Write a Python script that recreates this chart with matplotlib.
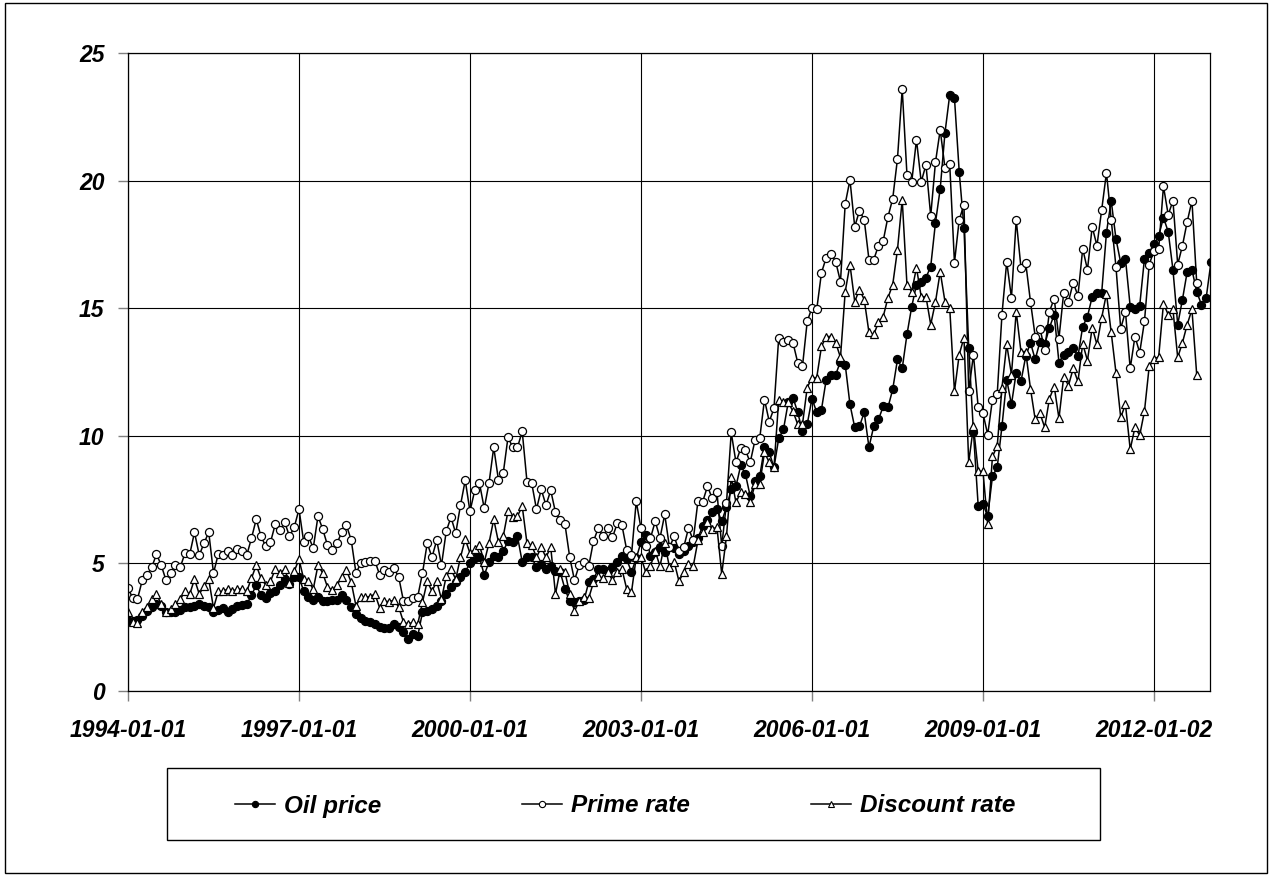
import matplotlib
matplotlib.use("Agg")
import matplotlib.pyplot as plt
from matplotlib.lines import Line2D
from matplotlib.patches import Rectangle
import numpy as np

# ---------------- data (monthly, starting 1994-01) ----------------
tick_labels = ["1994-01-01", "1997-01-01", "2000-01-01", "2003-01-01",
               "2006-01-01", "2009-01-01", "2012-01-02"]
tick_months = [0, 36, 72, 108, 144, 180, 216]
series_names = ["Oil price", "Prime rate", "Discount rate"]

oil_price = [
    2.74, 2.74, 2.78, 2.93, 3.13, 3.29, 3.40, 3.33, 3.09, 3.09, 3.09, 3.17,
    3.29, 3.29, 3.33, 3.40, 3.33, 3.29, 3.09, 3.17, 3.27, 3.09, 3.20, 3.33,
    3.38, 3.40, 3.75, 4.15, 3.75, 3.64, 3.83, 3.91, 4.15, 4.38, 4.19, 4.46,
    4.46, 3.91, 3.68, 3.56, 3.70, 3.52, 3.52, 3.56, 3.56, 3.75, 3.56, 3.31,
    3.00, 2.88, 2.74, 2.70, 2.62, 2.50, 2.46, 2.46, 2.62, 2.50, 2.31, 2.03,
    2.23, 2.15, 3.09, 3.13, 3.20, 3.35, 3.52, 3.80, 4.07, 4.26, 4.46, 4.68,
    5.00, 5.20, 5.24, 4.54, 5.05, 5.28, 5.24, 5.48, 5.87, 5.83, 6.06, 5.05,
    5.24, 5.24, 4.85, 4.97, 4.77, 4.89, 4.70, 4.66, 3.99, 3.52, 3.48, 3.52,
    3.55, 4.26, 4.38, 4.77, 4.77, 4.70, 4.85, 5.05, 5.28, 5.16, 4.66, 5.20,
    5.83, 6.10, 5.28, 5.44, 5.63, 5.44, 5.63, 5.60, 5.36, 5.48, 5.67, 5.83,
    6.00, 6.46, 6.70, 7.00, 7.12, 6.65, 7.20, 7.90, 8.02, 8.84, 8.49, 7.63,
    8.22, 8.41, 9.55, 9.35, 8.76, 9.90, 10.25, 11.31, 11.50, 10.92, 10.17, 10.45,
    11.46, 10.92, 11.03, 12.20, 12.40, 12.40, 12.91, 12.79, 11.23, 10.33, 10.37, 10.92,
    9.55, 10.37, 10.64, 11.15, 11.11, 11.82, 12.99, 12.64, 13.97, 15.06, 15.92, 16.04,
    16.20, 16.63, 18.35, 19.68, 21.87, 23.36, 23.24, 20.35, 18.15, 13.46, 10.13, 7.24,
    7.32, 6.85, 8.41, 8.76, 10.37, 12.20, 11.23, 12.48, 12.13, 13.11, 13.65, 12.99,
    13.69, 13.58, 14.24, 14.75, 12.87, 13.18, 13.30, 13.46, 13.11, 14.28, 14.67, 15.45,
    15.61, 15.61, 17.96, 19.21, 17.72, 16.78, 16.94, 15.06, 14.98, 15.10, 16.94, 17.18,
    17.50, 17.84, 18.55, 18.00, 16.51, 14.36, 15.34, 16.43, 16.51, 15.65, 15.14, 15.41,
    16.80,
]

prime_rate = [
    4.03, 3.64, 3.60, 4.34, 4.54, 4.85, 5.36, 4.93, 4.34, 4.62, 4.93, 4.85,
    5.40, 5.36, 6.22, 5.32, 5.79, 6.22, 4.62, 5.36, 5.32, 5.48, 5.32, 5.56,
    5.48, 5.32, 5.99, 6.73, 6.06, 5.67, 5.83, 6.53, 6.30, 6.61, 6.06, 6.42,
    7.12, 5.83, 6.06, 5.60, 6.85, 6.34, 5.71, 5.52, 5.79, 6.22, 6.49, 5.91,
    4.62, 5.00, 5.05, 5.09, 5.09, 4.54, 4.73, 4.66, 4.81, 4.46, 3.52, 3.52,
    3.64, 3.70, 4.62, 5.79, 5.24, 5.91, 4.93, 6.26, 6.81, 6.18, 7.28, 8.26,
    7.04, 7.86, 8.14, 7.16, 8.14, 9.55, 8.26, 8.53, 9.94, 9.55, 9.55, 10.17,
    8.20, 8.14, 7.12, 7.90, 7.28, 7.86, 7.00, 6.69, 6.53, 5.24, 4.34, 4.93,
    5.05, 4.89, 5.87, 6.38, 6.06, 6.38, 6.02, 6.57, 6.49, 5.52, 5.32, 7.43,
    6.38, 5.67, 5.99, 6.65, 5.99, 6.92, 5.63, 6.06, 5.48, 5.63, 6.38, 5.91,
    7.45, 7.42, 8.02, 7.55, 7.79, 5.67, 7.36, 10.13, 8.96, 9.51, 9.43, 8.96,
    9.82, 9.90, 11.42, 10.56, 11.07, 13.85, 13.69, 13.77, 13.65, 12.87, 12.72, 14.48,
    15.02, 14.95, 16.39, 16.98, 17.14, 16.82, 16.04, 19.09, 20.03, 18.19, 18.82, 18.47,
    16.90, 16.90, 17.45, 17.64, 18.58, 19.29, 20.85, 23.59, 20.23, 19.95, 21.60, 19.95,
    20.62, 18.62, 20.72, 21.99, 20.50, 20.66, 16.78, 18.47, 19.05, 11.74, 13.18, 11.11,
    10.88, 10.05, 11.42, 11.62, 14.75, 16.82, 15.41, 18.47, 16.59, 16.78, 15.26, 13.89,
    14.20, 13.38, 14.87, 15.38, 13.81, 15.61, 15.26, 16.00, 15.49, 17.33, 16.51, 18.19,
    17.45, 18.86, 20.31, 18.47, 16.63, 14.20, 14.87, 12.64, 13.89, 13.26, 14.48, 16.71,
    17.25, 17.33, 19.78, 18.66, 19.21, 16.71, 17.45, 18.39, 19.21, 16.00,
]

discount_rate = [
    3.09, 2.70, 2.66, 3.10, 3.30, 3.60, 3.80, 3.40, 3.10, 3.20, 3.40, 3.60,
    3.90, 3.80, 4.38, 3.80, 4.10, 4.38, 3.25, 3.90, 3.90, 4.00, 3.90, 4.00,
    3.99, 3.91, 4.42, 4.93, 4.42, 4.15, 4.30, 4.77, 4.62, 4.77, 4.23, 4.69,
    5.16, 4.38, 4.30, 3.99, 4.93, 4.62, 4.07, 3.95, 4.15, 4.46, 4.73, 4.26,
    3.33, 3.68, 3.68, 3.70, 3.80, 3.25, 3.52, 3.50, 3.56, 3.29, 2.70, 2.62,
    2.70, 2.62, 3.48, 4.30, 3.91, 4.30, 3.60, 4.50, 4.77, 4.38, 5.24, 5.95,
    5.40, 5.55, 5.71, 5.05, 5.79, 6.73, 5.83, 6.06, 7.04, 6.81, 6.85, 7.24,
    5.79, 5.71, 5.24, 5.63, 5.24, 5.63, 3.80, 4.77, 4.66, 3.80, 3.13, 3.52,
    3.68, 3.64, 4.26, 4.50, 4.42, 4.66, 4.34, 4.66, 4.77, 3.99, 3.87, 5.24,
    5.24, 4.66, 4.89, 5.48, 4.89, 5.79, 4.85, 5.05, 4.30, 4.66, 4.97, 4.89,
    5.90, 6.22, 6.61, 6.34, 6.42, 4.58, 6.06, 8.37, 7.39, 7.79, 7.71, 7.39,
    8.10, 8.10, 9.35, 8.96, 8.76, 11.42, 11.31, 11.31, 10.96, 10.45, 10.45, 11.89,
    12.28, 12.28, 13.50, 13.89, 13.89, 13.65, 13.07, 15.65, 16.71, 15.26, 15.73, 15.34,
    14.05, 13.97, 14.44, 14.67, 15.41, 15.92, 17.29, 19.25, 15.92, 15.65, 16.59, 15.45,
    15.45, 14.36, 15.24, 16.43, 15.26, 15.02, 11.74, 13.18, 13.85, 8.96, 10.37, 8.61,
    8.61, 6.53, 9.19, 9.59, 11.89, 13.58, 12.40, 14.87, 13.30, 13.30, 11.85, 10.64,
    10.88, 10.33, 11.46, 11.93, 10.68, 12.32, 11.97, 12.64, 12.13, 13.61, 12.95, 14.24,
    13.58, 14.63, 15.57, 14.05, 12.48, 10.72, 11.23, 9.47, 10.33, 10.02, 10.96, 12.72,
    13.00, 13.10, 15.18, 14.75, 14.95, 13.07, 13.65, 14.36, 14.95, 12.40,
]

# ---------------- figure ----------------
W, H = 1272, 875
plt.rcParams['font.family'] = ['Liberation Sans', 'DejaVu Sans']
fig = plt.figure(figsize=(W / 100, H / 100), dpi=100)
fig.patch.set_facecolor("white")

ax = fig.add_axes([128 / W, 1 - 691 / H, (1210 - 128) / W, (691 - 53) / H])

FS = 16.5
font = dict(fontweight="bold", fontstyle="italic", fontsize=FS)

styles = [
    dict(marker="o", mfc="black", mec="black"),
    dict(marker="o", mfc="white", mec="black"),
    dict(marker="^", mfc="white", mec="black"),
]
all_series = [oil_price, prime_rate, discount_rate]
for name, vals, st in zip(series_names, all_series, styles):
    x = np.arange(len(vals))
    ax.plot(x, vals, color="black", lw=1.1, ms=5.8, mew=0.9,
            label=name, clip_on=True, **st)

ax.set_xlim(0, 227.8)
ax.set_ylim(0, 25)
yticks = [0, 5, 10, 15, 20, 25]
ax.set_yticks(yticks)
ax.set_xticks(tick_months)
ax.set_xticklabels(tick_labels, **font)
ax.set_yticklabels([str(v) for v in yticks], **font)
ax.tick_params(axis="both", direction="out", length=7, width=1,
               color="#808080")
ax.tick_params(axis="x", pad=13)
ax.tick_params(axis="y", pad=10)
ax.grid(True, color="black", lw=0.8)
ax.set_axisbelow(True)
for sp in ax.spines.values():
    sp.set_color("black")
    sp.set_linewidth(0.9)

# ---------------- legend (equal-width entries as in the original) ----------------
lx0, lx1, ly0, ly1 = 167, 1100, 768, 840
fig.add_artist(Rectangle((lx0 / W, 1 - ly1 / H), (lx1 - lx0) / W, (ly1 - ly0) / H,
                         transform=fig.transFigure, fill=False,
                         edgecolor="black", lw=1))
marker_x = [255, 542, 831]
ly = 804
for mx, name, st in zip(marker_x, series_names, styles):
    fig.add_artist(Line2D([(mx - 20) / W, (mx + 20) / W], [1 - ly / H, 1 - ly / H],
                          transform=fig.transFigure, color="black", lw=1.1))
    fig.add_artist(Line2D([mx / W], [1 - ly / H], transform=fig.transFigure,
                          color="black", ms=4.5, mew=0.8, **st))
    fig.text((mx + 29) / W, 1 - 806 / H, name, ha="left", va="center",
             fontweight="bold", fontstyle="italic", fontsize=17.5)

# outer chart border
fig.add_artist(Rectangle((4.5 / W, 1 - 873 / H), (1267 - 4.5) / W, (873 - 3) / H,
                         transform=fig.transFigure, fill=False,
                         edgecolor="black", lw=1))

fig.savefig("out.png", dpi=100, facecolor="white")
